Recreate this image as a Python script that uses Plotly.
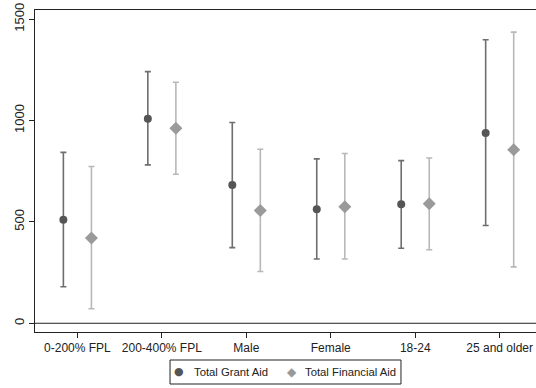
import plotly.graph_objects as go

# Point estimates with confidence bounds by subgroup
categories = ["0-200% FPL", "200-400% FPL", "Male", "Female", "18-24", "25 and older"]
series_names = ["Total Grant Aid", "Total Financial Aid"]

grant_est = [511, 1009, 682, 562, 587, 939]
grant_lo = [180, 781, 373, 317, 370, 482]
grant_hi = [843, 1241, 990, 811, 802, 1398]

fin_est = [421, 962, 556, 575, 590, 856]
fin_lo = [72, 735, 255, 317, 363, 278]
fin_hi = [773, 1189, 858, 837, 815, 1436]

y_ticks = [0, 500, 1000, 1500]

offset = 0.166
idx = list(range(len(categories)))

GRANT_DOT, GRANT_BAR = "#555555", "#6e6e6e"
FIN_DOT, FIN_BAR = "#9a9a9a", "#b8b8b8"
INK = "#222222"

fig = go.Figure()

fig.add_trace(go.Scatter(
    x=[i - offset for i in idx], y=grant_est, mode="markers",
    name=series_names[0], showlegend=False,
    marker=dict(symbol="circle", size=8, color=GRANT_DOT),
    error_y=dict(type="data", symmetric=False,
                 array=[h - e for h, e in zip(grant_hi, grant_est)],
                 arrayminus=[e - l for e, l in zip(grant_est, grant_lo)],
                 color=GRANT_BAR, thickness=1.6, width=3),
))

fig.add_trace(go.Scatter(
    x=[i + offset for i in idx], y=fin_est, mode="markers",
    name=series_names[1], showlegend=False,
    marker=dict(symbol="diamond", size=10, color=FIN_DOT),
    error_y=dict(type="data", symmetric=False,
                 array=[h - e for h, e in zip(fin_hi, fin_est)],
                 arrayminus=[e - l for e, l in zip(fin_est, fin_lo)],
                 color=FIN_BAR, thickness=1.6, width=3),
))

# horizontal reference line at zero
fig.add_shape(type="line", xref="paper", x0=0, x1=1, yref="y", y0=0, y1=0,
              line=dict(color=INK, width=1), layer="below")

# boxed legend below the plot area
fig.add_shape(type="rect", xref="paper", yref="paper",
              x0=0.2695, x1=0.7305, y0=-0.1615, y1=-0.0870,
              line=dict(color=INK, width=1), fillcolor="white")
leg_y = -0.1242
legend_items = [
    ("●", GRANT_DOT, 11, 0.2874, 0.3124, series_names[0]),
    ("◆", FIN_DOT, 12, 0.5124, 0.5349, series_names[1]),
]
for glyph, col, gsize, gx, tx, label in legend_items:
    fig.add_annotation(xref="paper", yref="paper", x=gx, y=leg_y, text=glyph,
                       showarrow=False, xanchor="center", yanchor="middle",
                       font=dict(family="DejaVu Sans", size=gsize, color=col))
    fig.add_annotation(xref="paper", yref="paper", x=tx, y=leg_y, text=label,
                       showarrow=False, xanchor="left", yanchor="middle",
                       font=dict(size=11.3, color=INK))

font = dict(family="Liberation Sans, Arial, sans-serif", size=12, color=INK)

fig.update_layout(
    width=536, height=388,
    margin=dict(l=35, r=0, t=10, b=56),
    paper_bgcolor="white", plot_bgcolor="white",
    font=font,
    showlegend=False,
    xaxis=dict(range=[-0.502, 5.43], tickmode="array", tickvals=idx, ticktext=categories,
               showgrid=False, zeroline=False, showline=True, linecolor=INK,
               linewidth=1, mirror=True, ticks="outside", ticklen=5, tickcolor=INK,
               tickfont=dict(size=12)),
    yaxis=dict(range=[-43, 1545], tickmode="array", tickvals=y_ticks,
               ticktext=[str(v) for v in y_ticks], tickangle=-90,
               showgrid=False, zeroline=False, showline=True, linecolor=INK,
               linewidth=1, ticks="outside", ticklen=5, tickcolor=INK,
               tickfont=dict(size=13)),
)

fig.write_html("out.html")
